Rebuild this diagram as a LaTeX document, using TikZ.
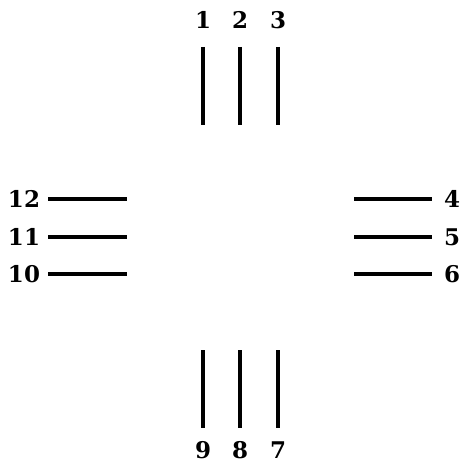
\documentclass[tikz,border=0pt]{standalone}
\usepackage{fontspec}
\newfontfamily\labfont{DejaVu Serif}
\begin{document}
\begin{tikzpicture}[x=1pt,y=-1pt,
  bar/.style={line width=3.2pt},
  lab/.style={font=\labfont\bfseries\fontsize{23}{26}\selectfont, inner sep=0pt}]
\useasboundingbox (0,0) rectangle (461,462);
% top
\foreach \n/\x in {1/203,2/240,3/278}{
  \coordinate (t\n a) at (\x,47); \coordinate (t\n b) at (\x,125);
  \draw[bar] (t\n a) -- (t\n b);
  \node[lab] (l\n) at (\x,20) {\n};
}
% bottom
\foreach \n/\x in {9/203,8/240,7/278}{
  \coordinate (b\n a) at (\x,350); \coordinate (b\n b) at (\x,428);
  \draw[bar] (b\n a) -- (b\n b);
  \node[lab] (l\n) at (\x,450) {\n};
}
% left
\foreach \n/\y in {12/199,11/237,10/274}{
  \coordinate (s\n a) at (48,\y); \coordinate (s\n b) at (127,\y);
  \draw[bar] (s\n a) -- (s\n b);
  \node[lab] (l\n) at (24,\y) {\n};
}
% right
\foreach \n/\y in {4/199,5/237,6/274}{
  \coordinate (r\n a) at (354,\y); \coordinate (r\n b) at (432,\y);
  \draw[bar] (r\n a) -- (r\n b);
  \node[lab] (l\n) at (452,\y) {\n};
}
\end{tikzpicture}
\end{document}
